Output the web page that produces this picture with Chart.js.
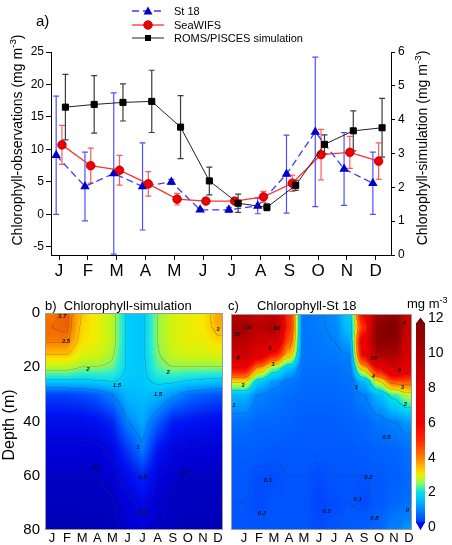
<!DOCTYPE html>
<html><head><meta charset="utf-8">
<script src="https://cdn.jsdelivr.net/npm/chart.js@4.4.1/dist/chart.umd.min.js"></script>
<style>
body{margin:0;background:#fff}
#wrap{position:relative;width:452px;height:545px;font-family:'Liberation Sans',Arial,sans-serif;color:#000;overflow:hidden;background:#fff}
canvas{position:absolute}
.t{position:absolute;white-space:nowrap}
.rot{position:absolute;width:300px;height:20px;line-height:20px;text-align:center;transform:rotate(-90deg);white-space:nowrap}
sup{font-size:70%;line-height:0;vertical-align:0.6em}
.leg{position:absolute;left:130px;height:12px;font-size:11px;line-height:12px;white-space:nowrap}
.leg svg{position:absolute;left:0;top:0}
.leg span{position:absolute;left:44px;top:0}
</style></head>
<body>
<div id="wrap">
  <canvas id="top" width="452" height="285" style="left:0;top:0"></canvas>
  <canvas id="sim" width="226" height="260" style="left:0;top:285px"></canvas>
  <canvas id="obs" width="226" height="260" style="left:226px;top:285px"></canvas>

  <div class="leg" style="top:5px"><svg width="36" height="12"><line x1="2" y1="6" x2="34" y2="6" stroke="#3a3aff" stroke-width="1.3" stroke-dasharray="7,4"/><polygon points="18,1.5 22.5,9.5 13.5,9.5" fill="#0000cc"/></svg><span>St 18</span></div>
  <div class="leg" style="top:18.5px"><svg width="36" height="12"><line x1="2" y1="6" x2="34" y2="6" stroke="#ff3030" stroke-width="1.3"/><circle cx="18" cy="6" r="4.3" fill="#ee0000" stroke="#b00000" stroke-width="0.8"/></svg><span>SeaWIFS</span></div>
  <div class="leg" style="top:32px"><svg width="36" height="12"><line x1="2" y1="6" x2="34" y2="6" stroke="#222" stroke-width="1"/><rect x="15" y="3" width="6" height="6" fill="#000"/></svg><span>ROMS/PISCES simulation</span></div>

  <div class="t" style="left:36px;top:12px;font-size:15px">a)</div>
  <div class="rot" style="left:-133px;top:130px;font-size:14px">Chlorophyll-observations (mg m<sup>-3</sup>)</div>
  <div class="rot" style="left:272px;top:138px;font-size:14px">Chlorophyll-simulation (mg m<sup>-3</sup>)</div>
  <div class="rot" style="left:-141px;top:415px;font-size:16px">Depth (m)</div>
  <div class="t" style="left:45px;top:298px;font-size:13px">b)&nbsp; Chlorophyll-simulation</div>
  <div class="t" style="left:228px;top:298px;font-size:13px">c)&nbsp;&nbsp;&nbsp;&nbsp; Chlorophyll-St 18</div>
  <div class="t" style="left:407px;top:296px;font-size:13px">mg m<sup>-3</sup></div>
</div>
<script>
// ---- panel a: monthly means (left axis: observations, right axis: simulation)
const months = ['J','F','M','A','M','J','J','A','S','O','N','D'];
const st18 = [9.1, 4.3, 6.3, 4.3, 5.0, 0.7, 0.7, 1.3, 6.2, 12.7, 7.0, 4.8];
const st18Err = [9.1, 5.3, 12.4, 6.7, 0.4, 0.2, 0.4, 1.2, 6.0, 11.5, 5.6, 4.8];
const seawifs = [10.7, 7.5, 6.8, 4.7, 2.35, 2.05, 2.05, 2.7, 4.8, 9.2, 9.55, 8.2];
const seawifsErr = [3.0, 2.7, 2.3, 1.9, 0.9, 0.3, 0.3, 0.85, 1.25, 3.9, 2.45, 2.8];
const roms = [4.37, 4.45, 4.51, 4.54, 3.78, 2.19, 1.53, 1.41, 2.06, 3.27, 3.67, 3.76];
const romsErr = [0.97, 0.85, 0.55, 0.92, 0.93, 0.41, 0.27, 0.1, 0.15, 0.28, 0.59, 0.87];
const leftTicks = [-5, 0, 5, 10, 15, 20, 25];
const rightTicks = [0, 1, 2, 3, 4, 5, 6];

// ---- panels b, c: chlorophyll profiles, one row per month, values at depths below
const depths = [0, 5, 10, 15, 20, 25, 30, 40, 50, 60, 70, 80];
const depthTicks = [0, 20, 40, 60, 80];
const simChl = [
  [3.6, 3.7, 3.6, 3.1, 2.2, 1.45, 0.65, 0.3, 0.17, 0.1, 0.08, 0.06],
  [3.8, 3.8, 3.6, 3.1, 2.2, 1.45, 0.65, 0.3, 0.17, 0.1, 0.08, 0.06],
  [3.0, 2.9, 2.8, 2.5, 2.0, 1.45, 0.7, 0.3, 0.16, 0.1, 0.08, 0.07],
  [2.6, 2.6, 2.6, 2.4, 2.0, 1.5, 0.8, 0.35, 0.16, 0.1, 0.08, 0.07],
  [2.2, 2.2, 2.2, 2.1, 1.9, 1.55, 1.0, 0.5, 0.25, 0.13, 0.09, 0.08],
  [1.45, 1.45, 1.45, 1.45, 1.45, 1.4, 1.3, 1.0, 0.6, 0.3, 0.15, 0.12],
  [1.4, 1.4, 1.4, 1.4, 1.4, 1.4, 1.35, 1.2, 0.95, 0.5, 0.25, 0.15],
  [2.0, 2.0, 2.0, 1.95, 1.85, 1.6, 1.3, 0.8, 0.4, 0.2, 0.12, 0.1],
  [2.4, 2.4, 2.4, 2.3, 2.0, 1.6, 1.1, 0.45, 0.22, 0.12, 0.09, 0.08],
  [2.6, 2.6, 2.6, 2.4, 2.0, 1.5, 0.9, 0.4, 0.18, 0.1, 0.08, 0.07],
  [2.7, 2.7, 2.6, 2.4, 2.0, 1.45, 0.8, 0.35, 0.17, 0.1, 0.08, 0.07],
  [3.3, 3.2, 2.9, 2.5, 2.0, 1.4, 0.75, 0.3, 0.16, 0.1, 0.08, 0.06]
];
const obsChl = [
  [9.5, 10.5, 9.5, 8.5, 6, 3.2, 1.5, 0.8, 0.6, 0.55, 0.5, 0.5],
  [8.5, 9.5, 8.5, 7, 3.8, 1.7, 1.0, 0.7, 0.6, 0.45, 0.45, 0.5],
  [9, 10.2, 8, 5.5, 2.5, 1.2, 0.85, 0.7, 0.55, 0.45, 0.5, 0.5],
  [5, 5, 4.5, 3.5, 1.6, 0.9, 0.75, 0.65, 0.55, 0.5, 0.5, 0.5],
  [0.85, 0.85, 0.85, 0.85, 0.8, 0.75, 0.7, 0.6, 0.55, 0.5, 0.5, 0.5],
  [0.95, 0.95, 0.9, 0.85, 0.8, 0.75, 0.7, 0.6, 0.55, 0.45, 0.4, 0.45],
  [1.1, 1.05, 1.0, 0.9, 0.8, 0.75, 0.7, 0.6, 0.55, 0.5, 0.45, 0.5],
  [1.7, 1.6, 1.3, 1.0, 0.9, 0.8, 0.75, 0.65, 0.55, 0.5, 0.5, 0.55],
  [6, 5, 6.5, 6, 3.5, 1.5, 1.0, 0.7, 0.6, 0.5, 0.45, 0.6],
  [10.5, 11.5, 11.5, 10.2, 6, 3, 1.5, 0.85, 0.65, 0.55, 0.55, 0.7],
  [11, 12, 11.5, 10, 8, 4.5, 2.2, 1.0, 0.7, 0.6, 0.7, 1.0],
  [8.5, 8.5, 8.2, 7.8, 7, 4.5, 2.8, 1.2, 0.8, 0.7, 0.8, 1.2]
];
const colorbarTicks = [0, 2, 4, 6, 8, 10, 12];

// contour labels: [text, month position, depth]
const simLabels = [['3.7',1.17,1.2],['3.5',1.43,10.3],['2',2.89,20.7],['1.5',4.81,26.6],['2',8.19,22],['1.5',7.52,30],
  ['1',6.2,49.4],['0.5',6.53,60.5],['0.2',6.53,73.4],['0.1',3.48,57],['0.1',9.24,59],['3',11.5,6]];
const obsLabels = [['10',0.03,7.4],['10',0.76,4.8],['10',2.69,5.2],['8',0.1,16.6],['6',2.22,12.9],['3',2.42,18.8],
  ['3',0.43,26.6],['1',-0.17,34],['10',9.13,16.6],['4',9.13,23.2],['8',10.86,21],['3',11.06,27.3],['2',11.26,33.6],
  ['8',11.19,3.3],['1',8.0,27.3],['0.5',9.99,45.8],['0.1',2.09,61.6],['0.2',1.69,73.8],['0.2',6.01,73],
  ['0.2',8.8,60.5],['0.1',8.07,68.6],['0.5',9.2,75.6],['0',11.39,72.7]];

Chart.defaults.font.family = "'Liberation Sans', Arial, sans-serif";
Chart.defaults.color = '#000';

// colour scales (panel c follows the colour bar, panel b has its own range)
const obsStops = [[0,0,20,250],[0.3,0,50,255],[0.5,0,85,255],[1,0,130,255],[1.5,0,185,255],[2,0,225,230],
  [2.5,130,250,110],[3,235,240,0],[3.5,255,185,0],[4,255,125,0],[5,255,40,0],[6,240,0,0],[8,215,0,0],[10,175,0,0],[12,125,0,0]];
const simStops = [[0,0,0,160],[0.15,0,0,215],[0.4,0,20,245],[0.8,0,95,255],[1.2,0,170,255],[1.5,0,212,250],
  [1.8,60,240,190],[2.0,150,245,80],[2.3,200,245,20],[2.7,245,235,0],[3.0,255,200,0],[3.3,255,160,0],[3.6,245,120,0],[3.9,235,80,0]];
function colorOf(stops, v) {
  if (v <= stops[0][0]) return stops[0].slice(1);
  for (let k = 1; k < stops.length; k++) {
    const b = stops[k];
    if (v <= b[0]) {
      const a = stops[k - 1], t = (v - a[0]) / (b[0] - a[0]);
      return [a[1] + (b[1] - a[1]) * t, a[2] + (b[2] - a[2]) * t, a[3] + (b[3] - a[3]) * t];
    }
  }
  return stops[stops.length - 1].slice(1);
}

function sample(grid, m, d, sharp) {
  let c = Math.min(11, Math.max(0, m - 0.5));
  const i0 = Math.min(10, Math.floor(c));
  let t = c - i0;
  if (sharp) t = t * t * (3 - 2 * t);
  d = Math.min(80, Math.max(0, d));
  let k = 0;
  while (k < depths.length - 2 && d > depths[k + 1]) k++;
  const u = (d - depths[k]) / (depths[k + 1] - depths[k]);
  const a = grid[i0][k] * (1 - u) + grid[i0][k + 1] * u;
  const b = grid[i0 + 1][k] * (1 - u) + grid[i0 + 1][k + 1] * u;
  return a * (1 - t) + b * t;
}

function fieldPlugin(grid, stops, sharp, levels, labels) {
  return {
    id: 'field',
    beforeDatasetsDraw(chart) {
      const { ctx, chartArea: a, scales: { x, y } } = chart;
      const w = Math.round(a.right - a.left), h = Math.round(a.bottom - a.top);
      const off = document.createElement('canvas');
      off.width = w; off.height = h;
      const octx = off.getContext('2d');
      const img = octx.createImageData(w, h);
      const xv = [], vals = new Float32Array(w * h), band = new Int8Array(w * h);
      for (let i = 0; i < w; i++) xv.push(x.getValueForPixel(a.left + i + 0.5));
      for (let j = 0; j < h; j++) {
        const d = y.getValueForPixel(a.top + j + 0.5);
        for (let i = 0; i < w; i++) {
          const v = sample(grid, xv[i], d, sharp);
          vals[j * w + i] = v;
          let b = 0; while (b < levels.length && v > levels[b]) b++;
          band[j * w + i] = b;
        }
      }
      for (let j = 0; j < h; j++) for (let i = 0; i < w; i++) {
        const p = j * w + i;
        let c = colorOf(stops, vals[p]);
        const edge = (i < w - 1 && band[p] !== band[p + 1]) || (j < h - 1 && band[p] !== band[p + w]);
        if (edge) c = c.map(q => q * 0.8 + 50 * 0.2);
        img.data[p * 4] = c[0]; img.data[p * 4 + 1] = c[1]; img.data[p * 4 + 2] = c[2]; img.data[p * 4 + 3] = 255;
      }
      octx.putImageData(img, 0, 0);
      ctx.drawImage(off, a.left, a.top);
      ctx.save();
      ctx.fillStyle = '#111';
      ctx.font = 'italic bold 6px "Liberation Sans", Arial, sans-serif';
      ctx.textAlign = 'center'; ctx.textBaseline = 'middle';
      labels.forEach(([txt, m, d]) => ctx.fillText(txt, x.getPixelForValue(m), y.getPixelForValue(d)));
      ctx.restore();
    },
    afterDraw(chart) {
      const { ctx, chartArea: a } = chart;
      ctx.save();
      ctx.strokeStyle = '#9a9a9a'; ctx.lineWidth = 1;
      ctx.strokeRect(a.left + 0.5, a.top + 0.5, a.right - a.left - 1, a.bottom - a.top - 1);
      ctx.restore();
    }
  };
}

const colorbarPlugin = {
  id: 'colorbar',
  afterDraw(chart) {
    const { ctx, chartArea: a, scales: { cb } } = chart;
    const x0 = a.right + 4, bw = 9;
    const yTop = cb.getPixelForValue(11.7), yBot = cb.getPixelForValue(0.3);
    for (let py = Math.floor(yTop); py < yBot; py++) {
      const c = colorOf(obsStops, cb.getValueForPixel(py + 0.5));
      ctx.fillStyle = `rgb(${c[0] | 0},${c[1] | 0},${c[2] | 0})`;
      ctx.fillRect(x0, py, bw, 1);
    }
    ctx.fillStyle = 'rgb(120,0,0)';
    ctx.beginPath(); ctx.moveTo(x0, yTop); ctx.lineTo(x0 + bw, yTop); ctx.lineTo(x0 + bw / 2, yTop - 6); ctx.fill();
    ctx.fillStyle = 'rgb(0,10,230)';
    ctx.beginPath(); ctx.moveTo(x0, yBot); ctx.lineTo(x0 + bw, yBot); ctx.lineTo(x0 + bw / 2, yBot + 8); ctx.fill();
  }
};

const errorBars = {
  id: 'errorBars',
  beforeDatasetsDraw(chart) {
    const { ctx, chartArea: a } = chart;
    ctx.save();
    ctx.beginPath(); ctx.rect(a.left, a.top - 3, a.right - a.left, a.bottom - a.top + 3); ctx.clip();
    chart.data.datasets.forEach(ds => {
      const xs = chart.scales.x, ys = chart.scales[ds.yAxisID];
      ctx.strokeStyle = ds.errColor; ctx.lineWidth = 1.2;
      ds.data.forEach((p, i) => {
        const e = ds.err[i];
        const px = xs.getPixelForValue(p.x);
        const y1 = ys.getPixelForValue(p.y + e), y0 = ys.getPixelForValue(p.y - e);
        ctx.beginPath();
        ctx.moveTo(px, y1); ctx.lineTo(px, y0);
        ctx.moveTo(px - 3, y1); ctx.lineTo(px + 3, y1);
        ctx.moveTo(px - 3, y0); ctx.lineTo(px + 3, y0);
        ctx.stroke();
      });
    });
    ctx.restore();
  }
};

const pts = (vals, off) => vals.map((v, i) => ({ x: i + 1 + off, y: v }));
const axisLine = { display: true, color: '#000', width: 1 };
const noGrid = { display: false, drawTicks: false, tickLength: 0 };

new Chart(document.getElementById('top'), {
  type: 'line',
  data: {
    datasets: [
      { label: 'St 18', data: pts(st18, -0.1), err: st18Err, errColor: '#5050ff', yAxisID: 'y', order: 2,
        borderColor: '#3a3aff', borderWidth: 1.3, borderDash: [7, 4], pointStyle: 'triangle', pointRadius: 4.2,
        pointBackgroundColor: '#0000cc', pointBorderColor: '#0000cc' },
      { label: 'SeaWIFS', data: pts(seawifs, 0.1), err: seawifsErr, errColor: '#ff5a5a', yAxisID: 'y', order: 1,
        borderColor: '#ff3030', borderWidth: 1.3, pointStyle: 'circle', pointRadius: 4.3,
        pointBackgroundColor: '#ee0000', pointBorderColor: '#b00000', pointBorderWidth: 0.8 },
      { label: 'ROMS/PISCES simulation', data: pts(roms, 0.22), err: romsErr, errColor: '#3c3c3c', yAxisID: 'y2', order: 0,
        borderColor: '#222', borderWidth: 1, pointStyle: 'rect', pointRadius: 4.3,
        pointBackgroundColor: '#000', pointBorderColor: '#000' }
    ]
  },
  options: {
    responsive: false, animation: false, events: [],
    layout: { padding: { top: 52, left: 0, right: 0, bottom: 0 } },
    plugins: { legend: { display: false }, tooltip: { enabled: false } },
    scales: {
      x: {
        type: 'linear', min: 0.72, max: 12.53,
        afterBuildTicks: s => { s.ticks = months.map((m, i) => ({ value: i + 1 })); },
        afterFit: s => { s.height = 30; },
        ticks: { callback: (v, i) => months[i], font: { size: 17 }, padding: 1, maxRotation: 0, autoSkip: false },
        grid: { display: true, drawOnChartArea: false, tickLength: 5, color: '#000' },
        border: axisLine
      },
      y: {
        position: 'left', min: -6.25, max: 25,
        afterBuildTicks: s => { s.ticks = leftTicks.map(v => ({ value: v })); },
        afterFit: s => { s.width = 51; },
        ticks: { font: { size: 12 }, padding: 2 },
        grid: { display: true, drawOnChartArea: false, tickLength: 5, color: '#000' },
        border: axisLine
      },
      y2: {
        position: 'right', min: 0, max: 6,
        afterBuildTicks: s => { s.ticks = rightTicks.map(v => ({ value: v })); },
        afterFit: s => { s.width = 61; },
        ticks: { font: { size: 12 }, padding: 3 },
        grid: { display: true, drawOnChartArea: false, tickLength: 4, color: '#000' },
        border: axisLine
      }
    }
  },
  plugins: [errorBars]
});

function monthAxis(min, max) {
  return {
    type: 'linear', min, max,
    afterBuildTicks: s => { s.ticks = months.map((m, i) => ({ value: i + 0.5 })); },
    afterFit: s => { s.height = 15; },
    ticks: { callback: (v, i) => months[i], font: { size: 13 }, padding: 1, maxRotation: 0, autoSkip: false },
    grid: noGrid, border: { display: false }
  };
}

new Chart(document.getElementById('sim'), {
  type: 'scatter',
  data: { datasets: [] },
  options: {
    responsive: false, animation: false, events: [],
    layout: { padding: { top: 28, right: 3, left: 0, bottom: 0 } },
    plugins: { legend: { display: false }, tooltip: { enabled: false } },
    scales: {
      x: monthAxis(0.04, 11.83),
      y: {
        reverse: true, min: 0, max: 80,
        afterBuildTicks: s => { s.ticks = depthTicks.map(v => ({ value: v })); },
        afterFit: s => { s.width = 45; s.paddingTop = 0; s.paddingBottom = 0; },
        ticks: { font: { size: 15 }, padding: 5 },
        grid: noGrid, border: { display: false }
      }
    }
  },
  plugins: [fieldPlugin(simChl, simStops, false, [0.1, 0.2, 0.5, 1, 1.5, 2, 3, 3.5, 3.7], simLabels)]
});

new Chart(document.getElementById('obs'), {
  type: 'scatter',
  data: { datasets: [] },
  options: {
    responsive: false, animation: false, events: [],
    layout: { padding: { top: 29, right: 0, left: 0, bottom: 0 } },
    plugins: { legend: { display: false }, tooltip: { enabled: false } },
    scales: {
      x: monthAxis(-0.37, 11.7),
      y: {
        reverse: true, min: 0, max: 80,
        afterFit: s => { s.width = 5; s.paddingTop = 0; s.paddingBottom = 0; },
        ticks: { display: false },
        grid: noGrid, border: { display: false }
      },
      cb: {
        position: 'right', min: -0.15, max: 12.25,
        afterBuildTicks: s => { s.ticks = colorbarTicks.map(v => ({ value: v })); },
        afterFit: s => { s.width = 40; s.paddingTop = 0; s.paddingBottom = 0; },
        ticks: { font: { size: 14 }, padding: 16 },
        grid: noGrid, border: { display: false }
      }
    }
  },
  plugins: [fieldPlugin(obsChl, obsStops, true, [0.1, 0.2, 0.5, 1, 2, 3, 4, 6, 8, 10], obsLabels), colorbarPlugin]
});
</script>
</body></html>
